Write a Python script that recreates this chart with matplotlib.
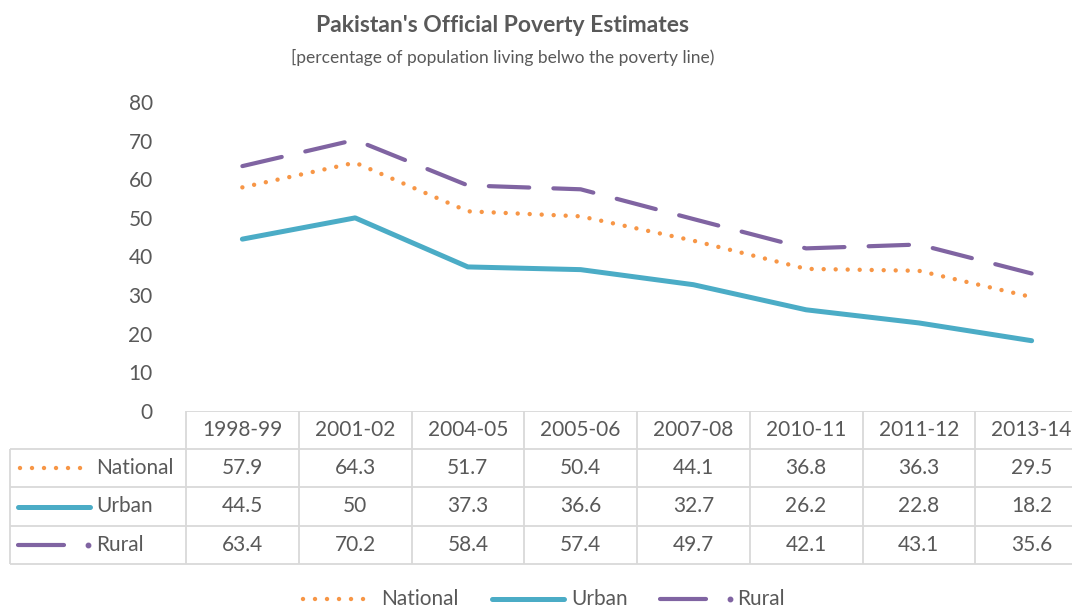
import matplotlib
matplotlib.use("Agg")
import matplotlib.pyplot as plt

periods = ["1998-99", "2001-02", "2004-05", "2005-06", "2007-08", "2010-11", "2011-12", "2013-14"]
national = [57.9, 64.3, 51.7, 50.4, 44.1, 36.8, 36.3, 29.5]
urban = [44.5, 50, 37.3, 36.6, 32.7, 26.2, 22.8, 18.2]
rural = [63.4, 70.2, 58.4, 57.4, 49.7, 42.1, 43.1, 35.6]
series_names = ["National", "Urban", "Rural"]
y_ticks = [0, 10, 20, 30, 40, 50, 60, 70, 80]

TEXT = "#595959"
GRID = "#D9D9D9"
FONT = "Lato"
FS = 15

styles = {
    "National": dict(color="#F79646", lw=3.2, dashes=(0.001, 2.7), dash_capstyle="round"),
    "Urban": dict(color="#4BACC6", lw=3.6, solid_capstyle="round"),
    "Rural": dict(color="#8064A2", lw=3.0, dashes=(9.7, 5.8), dash_capstyle="round"),
}
values = {"National": national, "Urban": urban, "Rural": rural}

W, H = 1072, 608
fig = plt.figure(figsize=(W / 100, H / 100), dpi=100)
plt.rcParams["font.family"] = [FONT, "DejaVu Sans"]

# pixel geometry of the plot area / table
x0, x1 = 186, 1088
y_top, y_bot = 102, 411
col_w = (x1 - x0) / len(periods)

ax = fig.add_axes([x0 / W, 1 - y_bot / H, (x1 - x0) / W, (y_bot - y_top) / H])
xs = list(range(len(periods)))
for name in series_names:
    ax.plot(xs, values[name], **styles[name])
ax.set_xlim(-0.5, len(periods) - 0.5)
ax.set_ylim(0, 80)
ax.set_yticks(y_ticks)
ax.set_yticklabels([str(t) for t in y_ticks], fontsize=FS, color=TEXT)
ax.tick_params(axis="y", length=0, pad=24)
ax.set_xticks([])
for s in ax.spines.values():
    s.set_visible(False)

# overlay in pixel coordinates for table, legend and titles
ov = fig.add_axes([0, 0, 1, 1], zorder=-1)
ov.set_xlim(0, W)
ov.set_ylim(H, 0)
ov.axis("off")

fig.text(503 / W, 1 - 26 / H, "Pakistan's Official Poverty Estimates", ha="center", va="center",
         fontsize=16.5, fontweight="bold", color=TEXT)
fig.text(503 / W, 1 - 57 / H, "[percentage of population living belwo the poverty line)", ha="center",
         va="center", fontsize=12.5, color=TEXT)

row_y = [411, 449, 487, 526, 564]
tab_left = 10
lkw = dict(color=GRID, lw=1.3, solid_capstyle="butt")
# horizontal lines
ov.plot([x0, x1], [row_y[0]] * 2, **lkw)
for y in row_y[1:]:
    ov.plot([tab_left, x1], [y, y], **lkw)
# vertical lines
ov.plot([tab_left, tab_left], [row_y[1], row_y[-1]], **lkw)
for i in range(len(periods) + 1):
    xv = x0 + i * col_w
    ov.plot([xv, xv], [row_y[0], row_y[-1]], **lkw)

for i, p in enumerate(periods):
    cx = x0 + (i + 0.5) * col_w
    ov.text(cx, (row_y[0] + row_y[1]) / 2, p, ha="center", va="center", fontsize=FS, color=TEXT)
    for r, name in enumerate(series_names):
        cy = (row_y[r + 1] + row_y[r + 2]) / 2
        ov.text(cx, cy, f"{values[name][i]:g}", ha="center", va="center", fontsize=FS, color=TEXT)


def legend_key(xa, y, name, text_x):
    st = styles[name]
    if name == "Rural":
        ov.plot([xa, xa + 46], [y, y], color=st["color"], lw=st["lw"], solid_capstyle="round")
        ov.plot([xa + 70], [y], "o", color=st["color"], ms=3.2)
    elif name == "National":
        ov.plot([xa + 2, xa + 68], [y, y], **st)
    else:
        ov.plot([xa, xa + 72], [y, y], **st)
    ov.text(text_x, y, name, ha="left", va="center", fontsize=FS, color=TEXT)


for r, name in enumerate(series_names):
    cy = (row_y[r + 1] + row_y[r + 2]) / 2
    legend_key(18, cy, name, 96)

leg_y = 599
legend_key(301, leg_y, "National", 381)
legend_key(492, leg_y, "Urban", 571)
legend_key(660, leg_y, "Rural", 737)

fig.savefig("out.png", dpi=100)
